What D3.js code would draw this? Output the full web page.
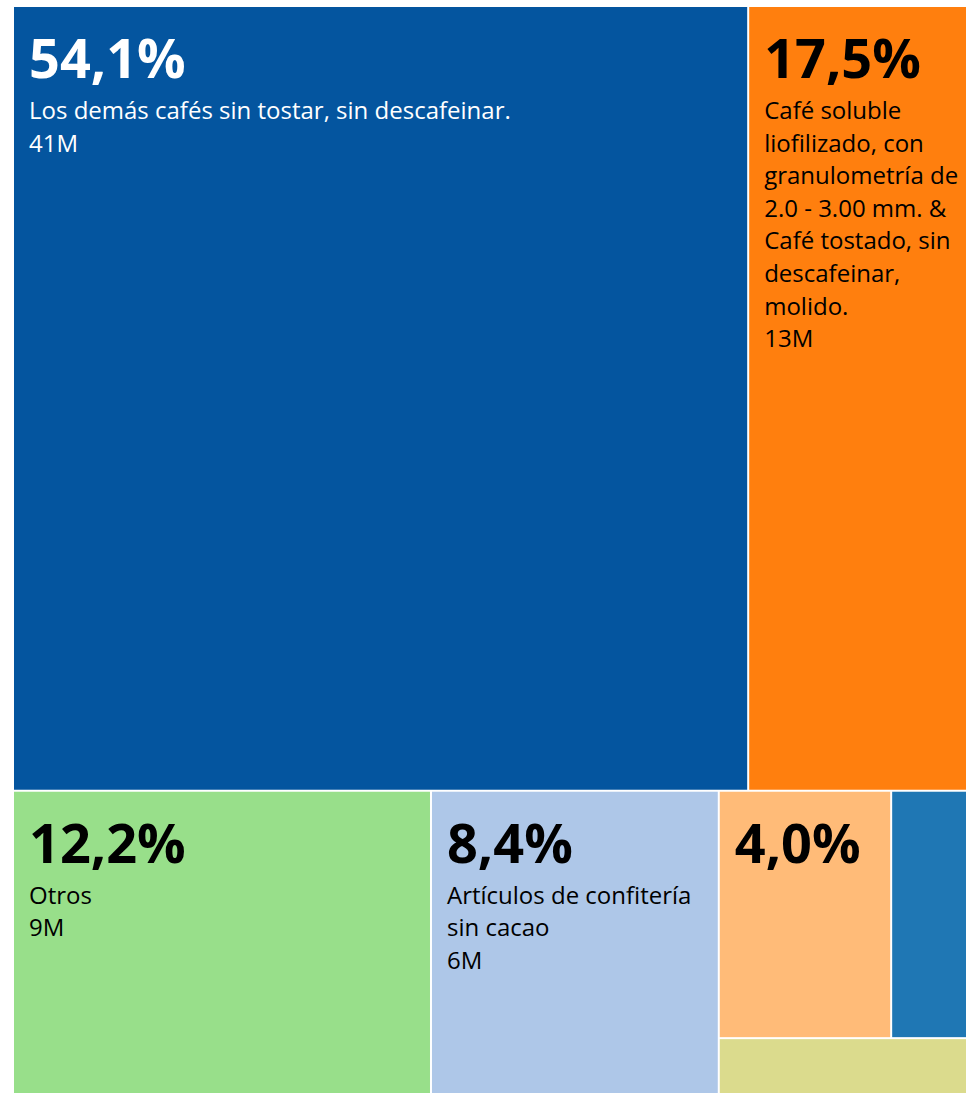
<!DOCTYPE html>
<html>
<head>
<meta charset="utf-8">
<script src="https://cdn.jsdelivr.net/npm/d3@7"></script>
<style>
  html, body { margin: 0; padding: 0; background: #fff; overflow: hidden; }
  svg { display: block; font-family: 'Open Sans', sans-serif; }
</style>
</head>
<body>
<svg width="966" height="1093"></svg>
<script>
const width = 966,
  height = 1093;

// Data
const categories = [
  'Los demás cafés sin tostar, sin descafeinar.',
  'Café soluble liofilizado, con granulometría de 2.0 - 3.00 mm. & Café tostado, sin descafeinar, molido.',
  'Otros',
  'Artículos de confitería sin cacao',
  'Categoría 5',
  'Categoría 6',
  'Categoría 7',
];
const shares = [54.1, 17.5, 12.2, 8.4, 4.0, 2.2, 1.6];
const valueLabels = ['41M', '13M', '9M', '6M', '3M', '2M', '1M'];
const colors = ['#04559f', '#ff7f0e', '#98df8a', '#aec7e8', '#ffbb78', '#1f77b4', '#dbdb8d'];
const textColors = ['#fff', '#000', '#000', '#000', '#000', '#000', '#000'];

const items = categories.map((name, i) => ({
  name,
  share: shares[i],
  label: valueLabels[i],
  color: colors[i],
  text: textColors[i],
}));

const svg = d3.select('svg');

// the treemap runs a little past the right/bottom edge of the page
const root = d3
  .hierarchy({ children: items })
  .sum((d) => d.share || 0)
  .sort((a, b) => b.value - a.value);

d3.treemap().tile(d3.treemapSquarify).size([971, 1094]).paddingInner(2)(root);

const cell = svg
  .append('g')
  .attr('transform', 'translate(14,7)')
  .selectAll('g')
  .data(root.leaves())
  .join('g')
  .attr('transform', (d) => `translate(${d.x0},${d.y0})`);

cell
  .append('rect')
  .attr('width', (d) => d.x1 - d.x0)
  .attr('height', (d) => d.y1 - d.y0)
  .attr('fill', (d) => d.data.color);

const fmt = (v) => v.toFixed(1).replace('.', ',') + '%';

// percentage headline
cell
  .filter((d) => d.x1 - d.x0 > 120 && d.y1 - d.y0 > 100)
  .append('text')
  .attr('x', 15)
  .attr('y', 71)
  .attr('fill', (d) => d.data.text)
  .style('font-size', '54px')
  .style('font-weight', 700)
  .text((d) => fmt(d.data.share));

// name + value, wrapped to the cell width
const lineH = 32.6;
cell
  .filter((d) => d.x1 - d.x0 > 200 && d.y1 - d.y0 > 150)
  .each(function (d) {
    const g = d3.select(this);
    const maxW = d.x1 - d.x0 - 32;
    const text = g
      .append('text')
      .attr('fill', d.data.text)
      .style('font-size', '24px');
    const words = d.data.name.split(/\s+/);
    const lines = [];
    let line = [];
    const probe = text.append('tspan');
    words.forEach((w) => {
      line.push(w);
      probe.text(line.join(' '));
      if (probe.node().getComputedTextLength() > maxW && line.length > 1) {
        line.pop();
        lines.push(line.join(' '));
        line = [w];
      }
    });
    lines.push(line.join(' '));
    probe.remove();
    lines.push(d.data.label);
    text
      .selectAll('tspan')
      .data(lines)
      .join('tspan')
      .attr('x', 15)
      .attr('y', (l, i) => 112 + i * lineH)
      .text((l) => l);
  });
</script>
</body>
</html>
